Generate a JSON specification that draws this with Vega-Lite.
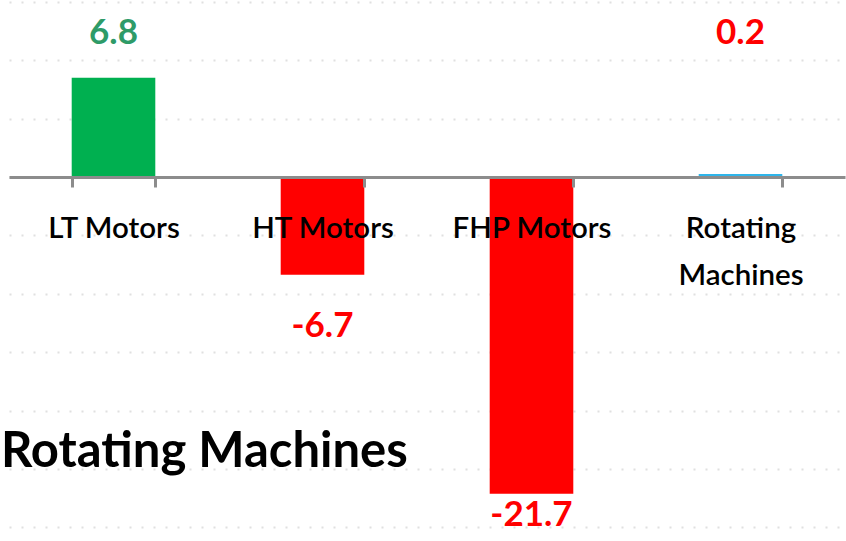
{
  "$schema": "https://vega.github.io/schema/vega-lite/v6.json",
  "width": 836,
  "height": 541,
  "autosize": {"type": "none"},
  "padding": {"left": 9, "top": 0, "right": 1, "bottom": 0},
  "background": "white",
  "config": {"view": {"stroke": null}},
  "title": {
    "text": "Rotating Machines",
    "orient": "bottom",
    "anchor": "start",
    "frame": "group",
    "offset": -113,
    "dx": -8,
    "fontSize": 49,
    "fontWeight": "bold",
    "font": "Lato",
    "color": "#000000",
    "baseline": "top"
  },
  "data": {
    "values": [
      {"category": "LT Motors", "value": 6.8},
      {"category": "HT Motors", "value": -6.7},
      {"category": "FHP Motors", "value": -21.7},
      {"category": "Rotating Machines", "value": 0.2}
    ]
  },
  "encoding": {
    "x": {
      "field": "category",
      "type": "nominal",
      "sort": null,
      "scale": {"paddingInner": 0.6, "paddingOuter": 0.3},
      "axis": {
        "title": null,
        "orient": "bottom",
        "offset": -364,
        "tickBand": "extent",
        "domainColor": "#8c8c8c",
        "domainWidth": 3,
        "tickColor": "#8c8c8c",
        "tickWidth": 3,
        "tickSize": 10,
        "labelAngle": 0,
        "labelFont": "Lato",
        "labelFontSize": 29.5,
        "labelFontWeight": 600,
        "labelColor": "#000000",
        "labelPadding": 27,
        "labelLineHeight": 47,
        "labelLimit": 0,
        "labelOverlap": false,
        "labelExpr": "datum.label == 'Rotating Machines' ? ['Rotating', 'Machines'] : datum.label",
        "zindex": 1
      }
    }
  },
  "layer": [
    {
      "mark": {"type": "bar"},
      "encoding": {
        "y": {
          "field": "value",
          "type": "quantitative",
          "title": null,
          "scale": {"domain": [-24.93, 12.12], "nice": false, "zero": false},
          "axis": {
            "values": [-24, -23, -22, -21, -20, -19, -18, -17, -16, -15, -14, -13, -12, -11, -10, -9, -8, -7, -6, -5, -4, -3, -2, -1, 0, 1, 2, 3, 4, 5, 6, 7, 8, 9, 10, 11, 12],
            "grid": true,
            "gridColor": "#e0e0e0",
            "gridDash": [2, 10],
            "gridWidth": 2,
            "domain": false,
            "ticks": false,
            "labels": false,
            "zindex": 0
          }
        },
        "color": {
          "field": "category",
          "type": "nominal",
          "legend": null,
          "scale": {
            "domain": ["LT Motors", "HT Motors", "FHP Motors", "Rotating Machines"],
            "range": ["#00B050", "#FF0000", "#FF0000", "#2FB5EA"]
          }
        }
      }
    },
    {
      "transform": [{"filter": "datum.value > 0"}],
      "mark": {"type": "text", "font": "Lato", "fontSize": 35, "fontWeight": "bold", "baseline": "middle"},
      "encoding": {
        "y": {"datum": 9.86, "type": "quantitative", "title": null},
        "text": {"field": "value", "type": "nominal"},
        "color": {
          "field": "category",
          "type": "nominal",
          "legend": null,
          "scale": {"domain": ["LT Motors", "Rotating Machines"], "range": ["#2E9B68", "#FF0000"]}
        }
      }
    },
    {
      "transform": [{"filter": "datum.category == 'HT Motors'"}],
      "mark": {"type": "text", "font": "Lato", "fontSize": 35, "fontWeight": "bold", "baseline": "middle", "dy": 51, "color": "#FF0000"},
      "encoding": {
        "y": {"field": "value", "type": "quantitative", "title": null},
        "text": {"field": "value", "type": "nominal"}
      }
    },
    {
      "transform": [{"filter": "datum.category == 'FHP Motors'"}],
      "mark": {"type": "text", "font": "Lato", "fontSize": 35, "fontWeight": "bold", "baseline": "middle", "dy": 21, "color": "#FF0000"},
      "encoding": {
        "y": {"field": "value", "type": "quantitative", "title": null},
        "text": {"field": "value", "type": "nominal"}
      }
    }
  ],
  "resolve": {"scale": {"color": "independent"}}
}
